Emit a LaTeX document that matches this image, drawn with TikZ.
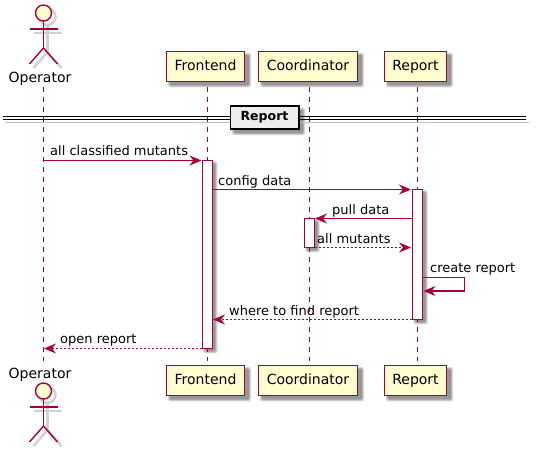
\documentclass[tikz,border=0pt]{standalone}
\usepackage{fontspec}
\setmainfont{DejaVu Sans}
\usetikzlibrary{arrows.meta,backgrounds}
\definecolor{umlline}{HTML}{A80036}
\definecolor{umlfill}{HTML}{FEFECE}
\newcommand{\softshadow}[2]{%
    \foreach \g in {1.5,0.5,-0.5} {
        \fill[black, opacity=0.16, rounded corners=1.5pt] ([shift={(#2-\g,#2-\g)}]#1.north west) rectangle ([shift={(#2+\g,#2+\g)}]#1.south east);
    }%
}
\tikzset{
    party/.style={draw=umlline, fill=umlfill, line width=1.3pt, minimum height=30pt, inner sep=0pt,
        font=\fontsize{14}{16}\selectfont, text height=11pt, text depth=3pt},
    actorname/.style={anchor=base, inner sep=0pt, font=\fontsize{14}{16}\selectfont},
    activation/.style={draw=umlline, fill=white, line width=1.1pt, minimum width=10pt, inner sep=0pt},
    lifeline/.style={draw=umlline, line width=1pt, dash pattern=on 5pt off 5pt},
    msg/.style={draw=umlline, line width=1.1pt, -{Stealth[length=12pt, width=10pt, inset=4pt]}},
    reply/.style={msg, dash pattern=on 2pt off 2pt},
    msgtext/.style={inner sep=0pt, anchor=base west},
}
\begin{document}
\begin{tikzpicture}[x=1pt, y=-1pt, every node/.style={font=\fontsize{13}{15}\selectfont, text=black}]
    \useasboundingbox (0,0) rectangle (536,452);

    \foreach \y in {0,378} {
        \begin{scope}[shift={(4,\y+4)}, draw=black!18, line width=2.5pt]
            \draw (43.5,13) circle (8);
            \draw (29.5,29) -- (57.5,29);
            \draw (43.5,21) -- (43.5,48);
            \draw (29.5,64) -- (43.5,48) -- (57.5,64);
        \end{scope}
        \begin{scope}[shift={(0,\y)}, draw=umlline, line width=1.4pt]
            \draw[fill=umlfill] (43.5,13) circle (8);
            \draw (29.5,29) -- (57.5,29);
            \draw (43.5,21) -- (43.5,48);
            \draw (29.5,64) -- (43.5,48) -- (57.5,64);
        \end{scope}
    }

    \node[actorname] (operatorTop) at (40,83) {Operator};
    \node[actorname] (operatorBot) at (40,378) {Operator};
    \node[party, minimum width=78.4pt] (frontendTop) at (205.5,66.2) {Frontend};
    \node[party, minimum width=99.4pt] (coordinatorTop) at (308,66.2) {Coordinator};
    \node[party, minimum width=62.4pt] (reportTop) at (415.5,66.2) {Report};
    \node[party, minimum width=78.4pt] (frontendBot) at (205.5,380.3) {Frontend};
    \node[party, minimum width=99.4pt] (coordinatorBot) at (308,380.3) {Coordinator};
    \node[party, minimum width=62.4pt] (reportBot) at (415.5,380.3) {Report};

    \coordinate (opStart) at (43.5,87);
    \coordinate (opEnd) at (43.5,361);
    \coordinate (feStart) at (207.3,87);
    \coordinate (feEnd) at (207.3,361);
    \coordinate (coStart) at (309.5,87);
    \coordinate (coEnd) at (309.5,361);
    \coordinate (reStart) at (417.5,87);
    \coordinate (reEnd) at (417.5,361);
    \draw[lifeline] (opStart) -- (opEnd);
    \draw[lifeline] (feStart) -- (feEnd);
    \draw[lifeline] (coStart) -- (coEnd);
    \draw[lifeline] (reStart) -- (reEnd);

    \coordinate (divLeft) at (3,116.5);
    \coordinate (divRight) at (526,116.5);
    \coordinate (divLeftB) at (3,119.5);
    \coordinate (divRightB) at (526,119.5);
    \draw[black!25, line width=1pt] ([shift={(3,3)}]divLeftB) -- ([shift={(3,3)}]divRightB);
    \draw[black, line width=1pt] (divLeft) -- (divRight);
    \draw[black, line width=1pt] (divLeftB) -- (divRightB);
    \node[draw=black, fill=black!7, line width=1.5pt, minimum width=68.5pt, minimum height=22.5pt, inner sep=0pt,
        font=\fontsize{12.5}{14}\selectfont\bfseries, text height=10pt, text depth=3pt] (divider) at (264.5,117.5) {Report};

    \node[activation, minimum height=188pt] (feActive) at (207.3,254.3) {};
    \node[activation, minimum height=130pt] (reActive) at (417.5,254.3) {};
    \node[activation, minimum height=29pt] (coActive) at (309.5,232.8) {};

    \begin{scope}[on background layer]
        \softshadow{frontendTop}{4}
        \softshadow{coordinatorTop}{4}
        \softshadow{reportTop}{4}
        \softshadow{frontendBot}{4}
        \softshadow{coordinatorBot}{4}
        \softshadow{reportBot}{4}
        \softshadow{divider}{4}
        \softshadow{feActive}{3}
        \softshadow{reActive}{3}
        \softshadow{coActive}{3}
    \end{scope}

    \coordinate (m1a) at (43.5,160.5);
    \coordinate (m1b) at (201.5,160.5);
    \coordinate (m2a) at (212.5,189.5);
    \coordinate (m2b) at (411,189.5);
    \coordinate (m3a) at (412,218.5);
    \coordinate (m3b) at (315,218.5);
    \coordinate (m4a) at (315,247.5);
    \coordinate (m4b) at (411,247.5);
    \coordinate (m5a) at (422.5,277.5);
    \coordinate (m5b) at (464.5,277.5);
    \coordinate (m5c) at (464.5,291);
    \coordinate (m5d) at (423.5,291);
    \coordinate (m6a) at (412,319.5);
    \coordinate (m6b) at (213,319.5);
    \coordinate (m7a) at (202,348.5);
    \coordinate (m7b) at (44,348.5);

    \draw[msg] (m1a) -- (m1b);
    \draw[msg] (m2a) -- (m2b);
    \draw[msg] (m3a) -- (m3b);
    \draw[reply] (m4a) -- (m4b);
    \draw[msg] (m5a) -- (m5b) -- (m5c) -- (m5d);
    \draw[reply] (m6a) -- (m6b);
    \draw[reply] (m7a) -- (m7b);

    \node[msgtext] (m1text) at (50,155) {all classified mutants};
    \node[msgtext] (m2text) at (218,185) {config data};
    \node[msgtext] (m3text) at (332,214) {pull data};
    \node[msgtext] (m4text) at (317,243) {all mutants};
    \node[msgtext] (m5text) at (430,272) {create report};
    \node[msgtext] (m6text) at (229,315) {where to find report};
    \node[msgtext] (m7text) at (60,343) {open report};
\end{tikzpicture}
\end{document}
